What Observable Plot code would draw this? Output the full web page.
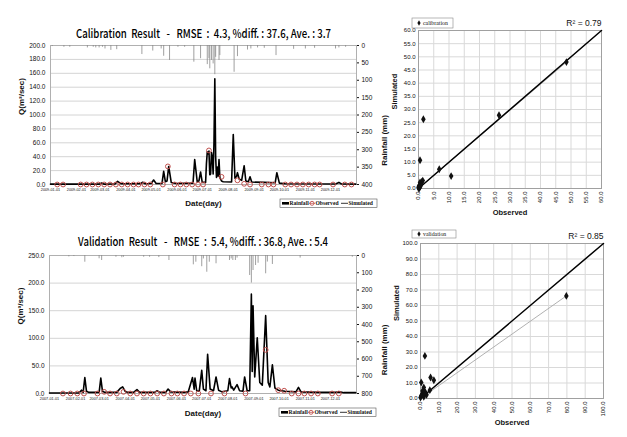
<!DOCTYPE html>
<html><head><meta charset="utf-8">
<script src="https://cdn.jsdelivr.net/npm/d3@7"></script>
<script src="https://cdn.jsdelivr.net/npm/@observablehq/plot@0.6"></script>
<style>
body{margin:0;background:#fff;}
#root{position:relative;width:627px;height:437px;overflow:hidden;background:#fff;}
.pane{position:absolute;}
</style></head>
<body><div id="root"></div>
<script>
// ---------- DATA ----------
const calTitle = "Calibration  Result   -   RMSE  :  4.3, %diff. : 37.6, Ave. : 3.7";
const valTitle = "Validation  Result   -   RMSE  :  5.4, %diff. : 36.8, Ave. : 5.4";
const calYear = 2009, valYear = 2007;
const calMonthTicks = ["2009-01-01","2009-02-01","2009-03-01","2009-04-01","2009-05-01","2009-06-01","2009-07-01","2009-08-01","2009-09-01","2009-10-01","2009-11-01","2009-12-01"];
const valMonthTicks = ["2007-01-01","2007-02-01","2007-03-01","2007-04-01","2007-05-01","2007-06-01","2007-07-01","2007-08-01","2007-09-01","2007-10-01","2007-11-01","2007-12-01"];
const calQTicks = [0,20,40,60,80,100,120,140,160,180,200];
const calRainTicks = [0,50,100,150,200,250,300,350,400];
const valQTicks = [0,50,100,150,200,250];
const valRainTicks = [0,100,200,300,400,500,600,700,800];

// simulated discharge [day of year, Q m3/s]
const calSim = [[0,0.5],[58,0.5],[61,2],[64,0.5],[77,0.8],[80,4.5],[84,1.2],[107,1],[110,3.3],[113,1],[120,1.5],[123,6.5],[126,1.5],[133,1.5],[135,19],[137,4],[139,5],[141,26],[144,3],[150,1.5],[170,2],[172,36],[175,4],[177,5],[179,18],[181,3],[185,3],[186,30],[187,47],[188,44],[189,48],[190,14],[191,15],[192,46],[193,40],[194,15],[195,60],[196,152],[197,40],[198,10],[199,25],[200,12],[201,36],[202,10],[204,5],[206,4],[216,3.5],[218,72],[220,9],[222,12],[223,17],[225,8],[228,6],[231,27],[233,5],[236,4],[238,11],[240,3.5],[255,3],[268,2.5],[270,17],[273,2],[280,1],[340,0.8],[344,3],[347,0.8],[364,0.5]];
// observed discharge [day of year, Q]
const calObs = [[8,0],[15,0],[36,0],[43,0],[50,0],[57,0],[64,0],[71,0],[78,0],[85,0],[92,0],[99,0],[105,0],[112,0],[119,0],[134,0],[140,26],[148,0],[155,0],[162,0],[169,0],[176,0],[182,0],[189,49],[204,11],[223,6],[231,1],[238,0],[252,0],[260,0],[266,0],[280,0],[287,0],[294,0],[301,0],[308,0],[315,0],[321,0],[337,0],[351,0],[359,0]];
// rainfall [day of year, mm]
const calRain = [[2,3],[16,5],[23,5],[44,7],[51,5],[54,7],[58,7],[62,5],[65,10],[72,14],[79,12],[109,26],[122,16],[132,10],[135,31],[142,43],[152,5],[160,5],[171,48],[179,38],[187,55],[189,38],[190,67],[192,43],[194,53],[196,84],[197,34],[201,43],[202,29],[219,77],[223,32],[235,13],[239,10],[247,7],[255,8],[269,29],[290,11],[304,10],[315,8],[340,10],[344,7],[352,5]];

const valSim = [[0,1],[35,1],[38,6],[40,2],[42,29],[44,4],[47,2],[59,2],[61,28],[63,4],[66,2],[80,2],[84,9],[87,12],[90,4],[93,2],[100,2],[104,7],[107,2],[125,2],[128,5],[131,2],[138,2],[141,8],[144,3],[160,2],[165,3],[170,29],[172,8],[173,28],[175,5],[178,4],[181,42],[183,8],[186,5],[188,71],[191,8],[195,5],[198,30],[201,6],[205,3],[212,5],[214,27],[216,10],[217,12],[219,6],[223,16],[226,5],[230,4],[232,30],[235,5],[238,5],[240,180],[241,40],[242,159],[244,30],[247,101],[250,20],[253,15],[257,141],[260,20],[262,12],[265,52],[268,10],[272,6],[280,4],[293,3],[296,11],[299,3],[320,2],[340,2],[345,3],[350,1.5],[364,1.5]];
const valObs = [[16,0],[25,0],[33,0],[41,0],[57,0],[65,3],[72,0],[80,0],[88,3],[96,0],[104,0],[112,0],[120,0],[128,0],[136,0],[145,0],[152,0],[160,0],[168,0],[177,0],[192,0],[208,0],[233,0],[257,79],[272,6],[279,5],[288,0],[296,0],[303,0],[311,0],[319,0],[336,0],[344,0]];
const valRain = [[23,8],[29,6],[42,39],[59,19],[62,29],[79,10],[86,13],[88,10],[112,10],[119,10],[130,12],[142,29],[171,54],[174,39],[181,65],[183,20],[187,97],[190,39],[198,48],[214,29],[216,20],[218,29],[221,29],[223,15],[238,116],[240,160],[242,87],[245,58],[248,45],[257,106],[259,38],[265,52],[298,15],[360,10]];

// scatter: observed vs simulated
const calScatObs = [48.5,26.4,6.8,10.7,1.6,0.5,0.5,1.0,0.2,0.0,0.3,0.8,0.1,0.6,1.4];
const calScatSim = [48.0,27.8,7.3,4.7,26.3,10.7,2.3,2.5,1.0,0.5,0.2,1.5,0.0,0.8,3.0];
const calTicks = [0,5,10,15,20,25,30,35,40,45,50,55,60];
const calTrend = [[0,0],[48.5,48.0]];
const calOneToOne = [[0,0],[60,60]];
const calR2 = "R² = 0.79";

const valScatObs = [79.7,2.4,0.4,1.8,5.5,7.3,5.1,2.7,0.9,0.0,1.5,3.3,1.1,0.4,1.8,2.2];
const valScatSim = [66.2,27.5,10.3,7.1,13.5,11.8,5.4,3.9,2.8,0.6,3.2,2.4,4.9,1.7,1.1,4.0];
const valTicks = [0,10,20,30,40,50,60,70,80,90,100];
const valTrend = [[0,0],[79.7,66.2]];
const valOneToOne = [[0,0],[100,100]];
const valR2 = "R² = 0.85";

// ---------- DRAW ----------
const root = document.getElementById("root");
const SANS = "'Liberation Sans', Arial, sans-serif";
const TITLEFONT = "'Noto Sans CJK KR', 'Noto Sans', sans-serif";

function place(el, left, top) {
  const d = document.createElement("div");
  d.className = "pane"; d.style.left = left + "px"; d.style.top = top + "px";
  d.appendChild(el); root.appendChild(d); return el;
}

function fitText(svg, str, len) {
  d3.select(svg).selectAll("text").filter(function() { return this.textContent === str; })
    .attr("textLength", len).attr("lengthAdjust", "spacingAndGlyphs");
}

function tsPlot(o) {
  const k = o.qMax / o.rainMax;
  const day = d => new Date(Date.UTC(o.year, 0, 1 + d[0]));
  const svg = Plot.plot({
    width: 395, height: o.height,
    marginLeft: o.ml, marginRight: 395 - 356, marginTop: o.mt, marginBottom: o.mb,
    style: {background: "transparent", fontFamily: SANS, color: "#111"},
    x: {type: "utc", domain: [new Date(Date.UTC(o.year,0,1)), new Date(Date.UTC(o.year+1,0,1))]},
    y: {domain: [0, o.qMax]},
    marks: [
      Plot.gridY(o.qTicks, {stroke: "#d4d4d4", strokeOpacity: 1}),
      Plot.frame({stroke: "#b0b0b0"}),
      Plot.ruleX(o.rain, {x: day, y1: o.qMax, y2: d => o.qMax - d[1]*k, stroke: "#888", strokeWidth: 0.8}),
      Plot.line(o.sim, {x: day, y: d => d[1], stroke: "black", strokeWidth: 1.6}),
      Plot.dot(o.obs, {x: day, y: d => d[1], r: 2.4, stroke: "#c0504d", fill: "none", strokeWidth: 1}),
      Plot.axisY({anchor: "left", ticks: o.qTicks, tickFormat: d => d.toFixed(1), tickSize: 0, tickPadding: 5, fontSize: 6.5, label: null}),
      Plot.axisY({anchor: "right", ticks: o.rainTicks.map(r => o.qMax - r*k), tickFormat: q => String(Math.round((o.qMax - q)/k)), tickSize: 2, tickPadding: 3, fontSize: 6.5, label: null}),
      Plot.axisX({ticks: o.monthTicks.map(s => new Date(s)), tickFormat: d3.utcFormat("%Y-%m-%d"), tickSize: 0, tickPadding: 4, fontSize: 3.8, label: null}),
      Plot.text([o.title], {text: d => d, frameAnchor: "top", lineAnchor: "middle", dy: o.titleDy, fontSize: 12, fontWeight: 500, fontFamily: TITLEFONT, fill: "#000"}),
      Plot.text(["Date(day)"], {text: d => d, frameAnchor: "bottom", lineAnchor: "middle", dy: o.dateDy, fontSize: 8, fontWeight: "bold"}),
      Plot.text(["Q(m³/sec)"], {text: d => d, frameAnchor: "left", dx: -29, rotate: -90, fontSize: 8, fontWeight: "bold"}),
      Plot.text(["Rainfall (mm)"], {text: d => d, frameAnchor: "right", dx: 28, rotate: -90, fontSize: 8, fontWeight: "bold"})
    ]
  });
  fitText(svg, o.title, o.titleLen);
  return svg;
}

function tsLegend(svg, x, y) {
  const g = d3.select(svg).append("g").attr("font-family", "'Liberation Serif', serif").attr("font-size", 5.6)
    .attr("font-weight", "bold").attr("fill", "#111").attr("text-anchor", "start");
  g.append("rect").attr("x", x).attr("y", y).attr("width", 97).attr("height", 8.5).attr("fill", "white").attr("stroke", "#555").attr("stroke-width", 0.6);
  g.append("rect").attr("x", x + 2).attr("y", y + 3).attr("width", 7).attr("height", 2.6).attr("fill", "black");
  g.append("text").attr("x", x + 9.5).attr("y", y + 6.3).text("Rainfall");
  g.append("line").attr("x1", x + 29).attr("x2", x + 35).attr("y1", y + 4.3).attr("y2", y + 4.3).attr("stroke", "#c0504d").attr("stroke-width", 0.8);
  g.append("circle").attr("cx", x + 32).attr("cy", y + 4.3).attr("r", 2).attr("fill", "none").attr("stroke", "#c0504d").attr("stroke-width", 0.9);
  g.append("text").attr("x", x + 35.5).attr("y", y + 6.3).text("Observed");
  g.append("line").attr("x1", x + 61).attr("x2", x + 68).attr("y1", y + 4.3).attr("y2", y + 4.3).attr("stroke", "black").attr("stroke-width", 0.8);
  g.append("text").attr("x", x + 68.5).attr("y", y + 6.3).text("Simulated");
}

function scatterPlot(o) {
  const pts = o.obsV.map((v, i) => [v, o.simV[i]]);
  return Plot.plot({
    width: 247, height: o.height,
    marginLeft: o.ml, marginRight: o.mr, marginTop: o.mt, marginBottom: o.mb,
    style: {background: "transparent", fontFamily: SANS, color: "#111"},
    x: {domain: [0, o.maxV]}, y: {domain: [0, o.maxV]},
    marks: [
      Plot.gridX(o.ticks, {stroke: "#d9d9d9", strokeOpacity: 1}),
      Plot.gridY(o.ticks, {stroke: "#d9d9d9", strokeOpacity: 1}),
      Plot.frame({stroke: "#a0a0a0"}),
      Plot.line(o.trend, {x: d => d[0], y: d => d[1], stroke: "#a8a8a8", strokeWidth: 0.9}),
      Plot.line(o.oneToOne, {x: d => d[0], y: d => d[1], stroke: "black", strokeWidth: 1.5}),
      Plot.dot(pts, {x: d => d[0], y: d => d[1], symbol: "diamond", r: 2.4, fill: "#111"}),
      Plot.axisY({ticks: o.ticks, tickFormat: d => d.toFixed(1), tickSize: 0, tickPadding: 3, fontSize: 6, label: null}),
      Plot.axisX({ticks: o.ticks, tickFormat: d => d.toFixed(1), tickRotate: -90, tickSize: 0, tickPadding: 3, fontSize: 6, label: null}),
      Plot.text(["Observed"], {text: d => d, frameAnchor: "bottom", lineAnchor: "middle", dy: o.obsDy, fontSize: 7.5, fontWeight: "bold"}),
      Plot.text(["Simulated"], {text: d => d, frameAnchor: "left", dx: -24, rotate: -90, fontSize: 7.5, fontWeight: "bold"}),
      Plot.text([o.r2], {text: d => d, frameAnchor: "top-right", lineAnchor: "middle", textAnchor: "end", dy: -7, fontSize: 8.5, fill: "#111"})
    ]
  });
}

function scatLegend(svg, x, y, w, h, label) {
  const g = d3.select(svg).append("g").attr("font-family", "'Liberation Serif', serif").attr("font-size", 5.8)
    .attr("fill", "#111").attr("text-anchor", "start");
  g.append("rect").attr("x", x).attr("y", y).attr("width", w).attr("height", h).attr("fill", "white").attr("stroke", "#888").attr("stroke-width", 0.6);
  g.append("path").attr("d", d3.symbol(d3.symbolDiamond, 9)()).attr("transform", `translate(${x + 7},${y + h/2})`).attr("fill", "#111");
  g.append("text").attr("x", x + 11).attr("y", y + h/2 + 2).text(label);
}

const ts1 = place(tsPlot({year: calYear, qMax: 200, rainMax: 400, qTicks: calQTicks, rainTicks: calRainTicks, monthTicks: calMonthTicks,
  sim: calSim, obs: calObs, rain: calRain, title: calTitle, titleLen: 255, height: 195, ml: 50, mt: 25, mb: 31, titleDy: -11, dateDy: 19}), 0, 20);
tsLegend(ts1, 280, 179);

const ts2 = place(tsPlot({year: valYear, qMax: 250, rainMax: 800, qTicks: valQTicks, rainTicks: valRainTicks, monthTicks: valMonthTicks,
  sim: valSim, obs: valObs, rain: valRain, title: valTitle, titleLen: 250, height: 200, ml: 49, mt: 30, mb: 32, titleDy: -13, dateDy: 20}), 0, 225);
tsLegend(ts2, 279, 183);

const sc1 = place(scatterPlot({maxV: 60, ticks: calTicks, obsV: calScatObs, simV: calScatSim, trend: calTrend, oneToOne: calOneToOne, r2: calR2,
  height: 210, ml: 38, mr: 26, mt: 20, mb: 32, obsDy: 24}), 380, 10);
scatLegend(sc1, 32, 8, 41, 10, "calibration");

const sc2 = place(scatterPlot({maxV: 100, ticks: valTicks, obsV: valScatObs, simV: valScatSim, trend: valTrend, oneToOne: valOneToOne, r2: valR2,
  height: 212, ml: 40, mr: 24, mt: 18, mb: 39, obsDy: 24}), 380, 225);
scatLegend(sc2, 32, 5, 44, 8, "validation");
</script>
</body></html>
